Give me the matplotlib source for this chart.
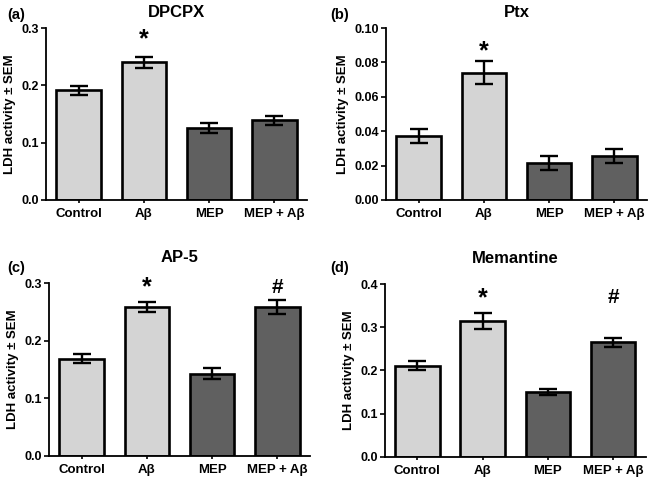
import matplotlib
matplotlib.use("Agg")
import matplotlib.pyplot as plt
import numpy as np

plt.rcParams['font.family'] = ['Liberation Sans', 'DejaVu Sans']
plt.rcParams['font.weight'] = 'bold'

groups = ["Control", "A\u03b2", "MEP", "MEP + A\u03b2"]
colors = ["#d4d4d4", "#d4d4d4", "#606060", "#606060"]

titles = ["DPCPX", "Ptx", "AP-5", "Memantine"]
letters = ["(a)", "(b)", "(c)", "(d)"]

dpcpx_mean = [0.191, 0.240, 0.126, 0.139]
dpcpx_sem = [0.007, 0.009, 0.009, 0.0075]
ptx_mean = [0.037, 0.074, 0.0214, 0.0257]
ptx_sem = [0.004, 0.0066, 0.0039, 0.004]
ap5_mean = [0.169, 0.258, 0.143, 0.258]
ap5_sem = [0.008, 0.0087, 0.0098, 0.0124]
mem_mean = [0.211, 0.314, 0.150, 0.265]
mem_sem = [0.011, 0.019, 0.006, 0.0104]

means = [dpcpx_mean, ptx_mean, ap5_mean, mem_mean]
sems = [dpcpx_sem, ptx_sem, ap5_sem, mem_sem]
yticks = [[0.0, 0.1, 0.2, 0.3],
          [0.00, 0.02, 0.04, 0.06, 0.08, 0.10],
          [0.0, 0.1, 0.2, 0.3],
          [0.0, 0.1, 0.2, 0.3, 0.4]]
tickfmt = ["%.1f", "%.2f", "%.1f", "%.1f"]
# significance marks: (bar index, symbol, y in data units)
marks = [[(1, "*", 0.281)],
         [(1, "*", 0.0865)],
         [(1, "*", 0.293), (3, "#", 0.293)],
         [(1, "*", 0.368), (3, "#", 0.368)]]

fig = plt.figure(figsize=(6.51, 4.83), dpi=100)
boxes = [[0.0707, 0.586, 0.401, 0.356],
         [0.593, 0.586, 0.401, 0.356],
         [0.0753, 0.056, 0.401, 0.358],
         [0.591, 0.054, 0.401, 0.358]]
letter_pos = [(0.011, 0.969), (0.507, 0.969), (0.011, 0.445), (0.508, 0.445)]
title_y = [1.088, 1.088, 1.15, 1.15]

x = np.arange(len(groups))
for i in range(4):
    ax = fig.add_axes(boxes[i])
    ax.bar(x, means[i], width=0.68, color=colors, edgecolor="black",
           linewidth=1.9, zorder=2)
    ax.errorbar(x, means[i], yerr=sems[i], fmt="none", ecolor="black",
                elinewidth=1.7, capsize=6.5, capthick=1.7, zorder=3)
    ax.set_xlim(-0.5, 3.5)
    ax.set_ylim(0, yticks[i][-1])
    ax.set_yticks(yticks[i])
    ax.set_yticklabels([tickfmt[i] % v for v in yticks[i]])
    ax.set_xticks(x)
    ax.set_xticklabels(groups)
    ax.spines['top'].set_visible(False)
    ax.spines['right'].set_visible(False)
    ax.spines['left'].set_linewidth(1.3)
    ax.spines['bottom'].set_linewidth(1.3)
    ax.tick_params(axis='y', length=3.5, width=1.2, labelsize=9, pad=1.5)
    ax.tick_params(axis='x', length=2.5, width=1.2, labelsize=9.5, pad=3)
    ax.set_ylabel("LDH activity \u00b1 SEM", fontsize=9.5, fontweight='bold',
                  labelpad=4)
    ax.text(0.5, title_y[i], titles[i], transform=ax.transAxes,
            ha='center', va='center', fontsize=12, fontweight='bold')
    for idx, sym, yy in marks[i]:
        ax.text(idx, yy, sym, ha='center', va='center',
                fontsize=18 if sym == "*" else 15, fontweight='bold')
    fig.text(letter_pos[i][0], letter_pos[i][1], letters[i],
             fontsize=10.5, fontweight='bold', va='center')

fig.savefig("out.png", dpi=100)
